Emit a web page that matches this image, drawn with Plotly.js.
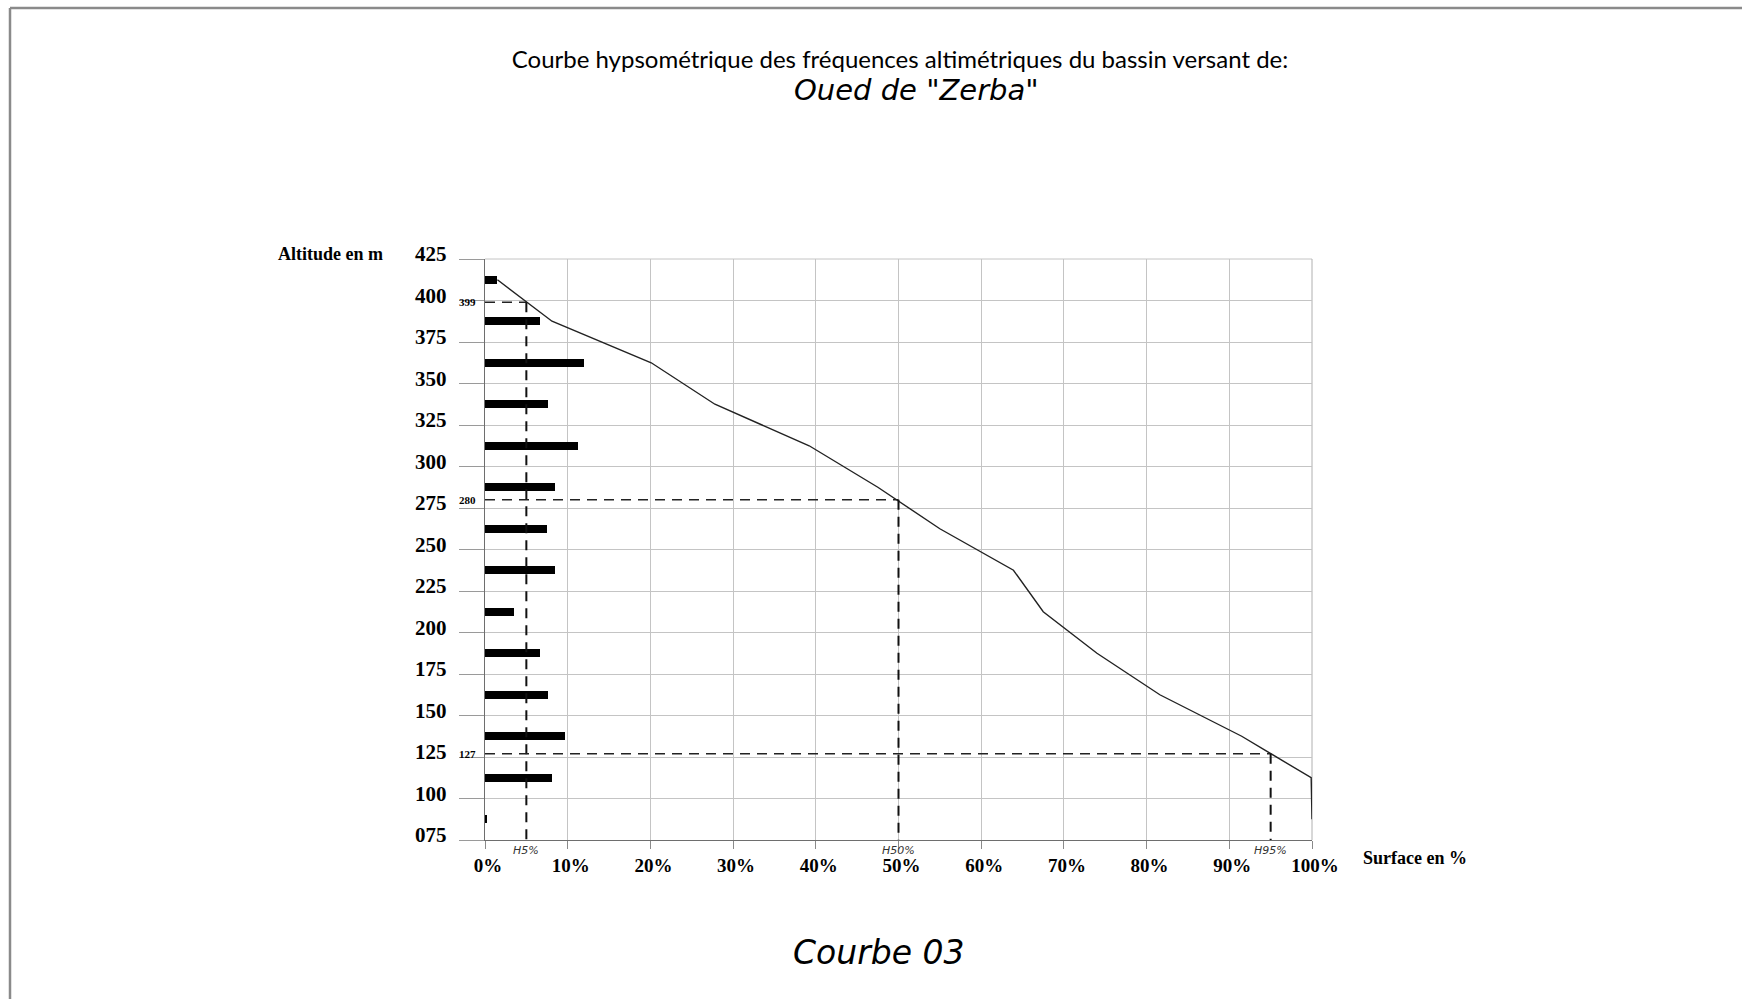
<!DOCTYPE html>
<html>
<head>
<meta charset="utf-8">
<script src="https://cdn.plot.ly/plotly-3.0.1.min.js"></script>
<style>
  html, body { margin: 0; padding: 0; background: #fff; }
  #chart { width: 1742px; height: 999px; }
</style>
</head>
<body>
<div id="chart"></div>
<script>
// ---- data ----
const altitudeBands = [412.5, 387.5, 362.5, 337.5, 312.5, 287.5, 262.5, 237.5, 212.5, 187.5, 162.5, 137.5, 112.5, 87.5];
const bandShare     = [1.5, 6.6, 12.0, 7.6, 11.2, 8.5, 7.5, 8.5, 3.5, 6.6, 7.65, 9.7, 8.1, 0.2];

const curveSurface  = [1.5, 8.1, 20.1, 27.8, 39.2, 47.5, 55.0, 63.9, 67.5, 74.0, 81.6, 91.5, 99.9, 100];
const curveAltitude = [412.5, 387.5, 362.5, 337.5, 312.5, 287.5, 262.5, 237.5, 212.5, 187.5, 162.5, 137.5, 112.5, 87.5];

const yTickVals = [75, 100, 125, 150, 175, 200, 225, 250, 275, 300, 325, 350, 375, 400, 425];
const yTickText = ["075", "100", "125", "150", "175", "200", "225", "250", "275", "300", "325", "350", "375", "400", "425"];
const xTickVals = [0, 10, 20, 30, 40, 50, 60, 70, 80, 90, 100];
const xTickText = ["0%", "10%", "20%", "30%", "40%", "50%", "60%", "70%", "80%", "90%", "100%"];

const refSurface  = [5, 50, 95];
const refAltitude = [399, 280, 127];
const refNames    = ["H5%", "H50%", "H95%"];
const refAltText  = ["399", "280", "127"];

const titleLine1 = "Courbe hypsométrique des fréquences altimétriques du bassin versant de:";
const titleLine2 = "Oued de \"Zerba\"";
const footer = "Courbe 03";

// ---- geometry (pixels) ----
const W = 1742, H = 999;
const M = { l: 485, r: W - 1312, t: 259, b: H - 840 };
const PW = W - M.l - M.r, PH = H - M.t - M.b;
const px2x = p => (p - M.l) / PW;
const py2y = p => (H - M.b - p) / PH;

const serif = "Liberation Serif, Times New Roman, serif";
const hand = "DejaVu Sans, sans-serif";

const traces = [
  {
    type: "bar", orientation: "h",
    x: bandShare, y: altitudeBands,
    width: 4.6,
    marker: { color: "#000", line: { width: 0 } },
    hoverinfo: "skip", showlegend: false
  },
  {
    type: "scatter", mode: "lines",
    x: curveSurface, y: curveAltitude,
    line: { color: "#222", width: 1.4 },
    hoverinfo: "skip", showlegend: false
  }
];

const shapes = [];
const annotations = [];
refSurface.forEach((s, i) => {
  shapes.push({ type: "line", xref: "x", yref: "y", x0: 0, x1: s, y0: refAltitude[i], y1: refAltitude[i],
    line: { color: "#222", width: 1.5, dash: "10px,7px" } });
  shapes.push({ type: "line", xref: "x", yref: "y", x0: s, x1: s, y0: refAltitude[i], y1: 75,
    line: { color: "#111", width: 2, dash: "10px,7px" } });
  annotations.push({ xref: "paper", yref: "y", x: px2x(478), y: refAltitude[i], xanchor: "right", yanchor: "middle",
    text: refAltText[i], showarrow: false, font: { family: serif, size: 11, color: "#000", weight: "bold" } });
  annotations.push({ xref: "x", yref: "paper", x: s, y: py2y(850), xanchor: "center", yanchor: "middle",
    text: refNames[i], showarrow: false, font: { family: "DejaVu Sans, sans-serif", size: 11, color: "#333", style: "italic" } });
});

// page frame (top and left only)
shapes.push({ type: "line", xref: "paper", yref: "paper", x0: px2x(10), x1: px2x(W + 5), y0: py2y(8), y1: py2y(8),
  line: { color: "#8a8a8a", width: 2.5 } });
shapes.push({ type: "line", xref: "paper", yref: "paper", x0: px2x(10), x1: px2x(10), y0: py2y(8), y1: py2y(H + 5),
  line: { color: "#8a8a8a", width: 2.5 } });

annotations.push({ xref: "paper", yref: "paper", x: px2x(916), y: py2y(90), xanchor: "center", yanchor: "middle",
  text: titleLine2, showarrow: false, font: { family: hand, size: 29, color: "#000", style: "italic" } });
annotations.push({ xref: "paper", yref: "paper", x: px2x(878), y: py2y(952), xanchor: "center", yanchor: "middle",
  text: footer, showarrow: false, font: { family: hand, size: 33, color: "#000", style: "italic" } });
annotations.push({ xref: "paper", yref: "paper", x: px2x(330), y: py2y(254), xanchor: "center", yanchor: "middle",
  text: "Altitude en m", showarrow: false, font: { family: serif, size: 18, color: "#000", weight: "bold" } });
annotations.push({ xref: "paper", yref: "paper", x: px2x(1415), y: py2y(858), xanchor: "center", yanchor: "middle",
  text: "Surface en %", showarrow: false, font: { family: serif, size: 18, color: "#000", weight: "bold" } });

const layout = {
  width: W, height: H,
  margin: M,
  paper_bgcolor: "#fff", plot_bgcolor: "#fff",
  showlegend: false,
  bargap: 0,
  title: {
    text: titleLine1,
    xref: "container", yref: "container",
    x: 900 / W, y: 1 - 60 / H, xanchor: "center", yanchor: "middle",
    font: { family: "Lato, Carlito, Calibri, sans-serif", size: 24, color: "#000" }
  },
  xaxis: {
    range: [0, 100], tickvals: xTickVals, ticktext: xTickText,
    showgrid: true, gridcolor: "#c4c4c4", gridwidth: 1,
    zeroline: false, showline: true, linecolor: "#6e6e6e", linewidth: 1.3,
    ticks: "outside", ticklen: 8, tickcolor: "#8a8a8a", tickwidth: 1,
    ticklabelshift: 3,
    tickfont: { family: serif, size: 19, color: "#000", weight: "bold" },
    fixedrange: true
  },
  yaxis: {
    range: [75, 425], tickvals: yTickVals, ticktext: yTickText,
    showgrid: true, gridcolor: "#c4c4c4", gridwidth: 1,
    zeroline: false, showline: true, linecolor: "#6e6e6e", linewidth: 1.3,
    ticks: "outside", ticklen: 25, tickcolor: "#9a9a9a", tickwidth: 1,
    ticklabelstandoff: 8,
    ticklabelshift: -5,
    tickfont: { family: serif, size: 21, color: "#000", weight: "bold" },
    fixedrange: true
  },
  shapes: shapes,
  annotations: annotations
};

// top and right edge lines of the grid
layout.shapes.push({ type: "line", xref: "paper", yref: "paper", x0: 0, x1: 1, y0: 1, y1: 1, line: { color: "#c4c4c4", width: 1 }, layer: "below" });
layout.shapes.push({ type: "line", xref: "paper", yref: "paper", x0: 1, x1: 1, y0: 0, y1: 1, line: { color: "#b0b0b0", width: 1 }, layer: "below" });

Plotly.newPlot("chart", traces, layout, { displayModeBar: false, staticPlot: true });
</script>
</body>
</html>
